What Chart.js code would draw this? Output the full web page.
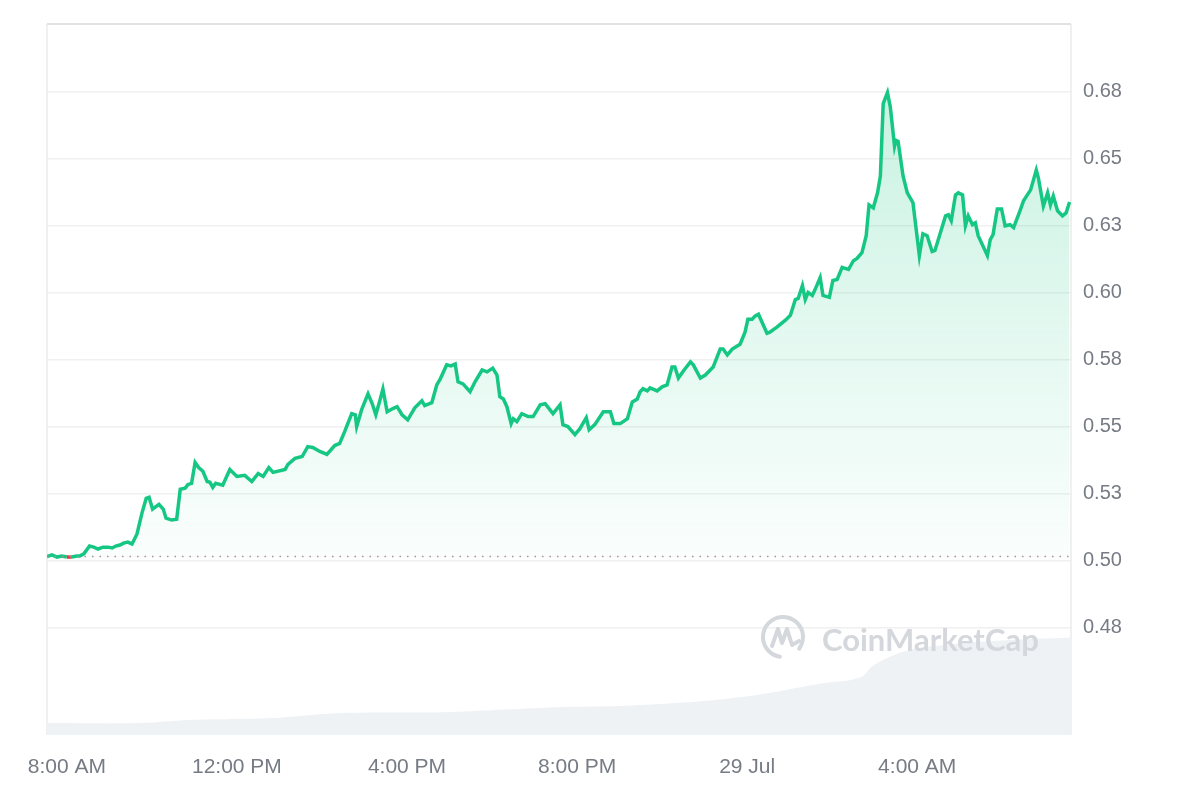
<!DOCTYPE html>
<html>
<head>
<meta charset="utf-8">
<script src="https://cdn.jsdelivr.net/npm/chart.js@4.4.1/dist/chart.umd.min.js"></script>
<style>
  html, body { margin: 0; padding: 0; background: #fff; }
  #wrap { width: 1200px; height: 800px; }
</style>
</head>
<body>
<div id="wrap"><canvas id="priceChart" width="1200" height="800"></canvas></div>
<script>
// minutes after 8:00 AM (28 Jul)
const times = [-28,-21,-14,-7,0,7,14,18,24,32,38,44,51,58,64,69,75,80,86,92,99,106,112,116,121,130,136,140,148,155,
  160,167,171,176,181,186,192,198,202,206,210,220,230,240,251,261,270,277,285,291,308,312,322,332,340,347,357,367,378,385,
  392,402,407,409,416,425,431,436,442,446,452,460,466,473,481,491,501,505,515,522,527,536,542,548,552,559,569,576,586,593,
  601,607,611,616,621,627,630,635,642,651,658,668,675,686,696,700,707,717,724,733,737,745,757,767,772,781,791,798,805,809,
  813,819,823,833,840,847,854,858,863,871,880,884,894,901,912,922,926,932,939,950,957,961,967,971,976,981,988,992,1002,1014,
  1021,1028,1032,1038,1042,1046,1052,1056,1063,1067,1076,1081,1087,1094,1103,1110,1115,1122,1128,1132,1138,1144,1148,1152,1158,1162,1168,1170,1173,1180,
  1186,1194,1203,1208,1214,1221,1225,1240,1244,1248,1254,1258,1264,1268,1272,1278,1282,1286,1299,1303,1307,1313,1319,1324,1331,1336,
  1345,1350,1360,1368,1371,1378,1384,1388,1392,1398,1405,1410,1415];

const prices = [0.5015,0.5021,0.5013,0.5017,0.5013,0.5013,0.5017,0.5017,0.5025,0.5054,0.5050,0.5043,0.5050,0.5050,0.5047,0.5054,0.5058,0.5065,0.5069,0.5062,
  0.5099,0.5177,0.5232,0.5236,0.5192,0.5210,0.5192,0.5158,0.5151,0.5154,
  0.5266,0.5270,0.5284,0.5288,0.5366,0.5347,0.5333,0.5295,0.5292,0.5273,0.5288,0.5281,0.5340,0.5314,0.5318,0.5295,0.5325,0.5314,0.5347,0.5329,
  0.5340,0.5359,0.5381,0.5388,0.5425,0.5422,0.5407,0.5396,0.5429,0.5437,
  0.5481,0.5548,0.5544,0.5500,0.5563,0.5622,0.5585,0.5544,0.5600,0.5640,0.5555,0.5567,0.5574,0.5544,0.5525,0.5570,0.5596,0.5578,0.5589,0.5655,
  0.5678,0.5730,0.5726,0.5733,0.5667,0.5659,0.5630,0.5667,0.5711,0.5704,0.5718,0.5692,0.5611,0.5603,0.5574,0.5511,0.5529,0.5518,0.5548,0.5537,
  0.5537,0.5581,0.5585,0.5548,0.5581,0.5507,0.5500,0.5470,0.5492,0.5533,0.5488,0.5507,0.5555,0.5555,0.5511,0.5511,0.5529,0.5592,0.5603,0.5630,
  0.5641,0.5633,0.5644,0.5633,0.5648,0.5655,0.5722,0.5722,0.5681,0.5711,0.5741,0.5730,0.5681,0.5692,0.5722,0.5789,0.5789,0.5767,0.5789,0.5807,
  0.5852,0.5900,0.5900,0.5912,0.5919,0.5889,0.5848,0.5852,0.5871,0.5897,0.5915,0.5974,0.5978,0.6026,0.5974,0.6000,0.5989,0.6012,0.6056,0.5989,
  0.5982,0.6045,0.6049,0.6094,0.6086,0.6119,0.6127,0.6149,0.6212,0.6327,0.6316,0.6372,0.6435,0.6705,0.6746,0.6693,0.6546,0.6568,0.6564,0.6435,
  0.6372,0.6335,0.6138,0.6219,0.6212,0.6153,0.6157,0.6286,0.6290,0.6268,0.6364,0.6372,0.6364,0.6249,0.6286,0.6253,0.6260,0.6212,0.6138,0.6197,
  0.6216,0.6312,0.6312,0.6249,0.6253,0.6242,0.6305,0.6342,0.6383,0.6457,0.6427,0.6323,0.6372,0.6327,0.6360,0.6305,0.6286,0.6297,0.6338];

// 24h volume (millions USD), sampled
const volTimes = [-28,103,174,291,385,527,692,805,950,1067,1120,1138,1186,1232,1317,1417];
const volumes = [12,12,15,17,22,23,28,30,38,52,58,70,85,90,95,98];

const tickMinutes = [0, 240, 480, 720, 960, 1200];
const tickLabels = ['8:00 AM', '12:00 PM', '4:00 PM', '8:00 PM', '29 Jul', '4:00 AM'];

const priceTicks = [0.475, 0.5, 0.525, 0.55, 0.575, 0.6, 0.625, 0.65, 0.675];
const priceTickLabels = ['0.48', '0.50', '0.53', '0.55', '0.58', '0.60', '0.63', '0.65', '0.68'];

const openPrice = prices[0];
const green = '#16c784';
const red = '#ea3943';
const labelColor = '#767b84';
const fontFamily = 'Liberation Sans, Arial, sans-serif';

function greenFill(context) {
    const area = context.chart.chartArea;
    if (!area) return 'rgba(22,199,132,0.15)';
    const yScale = context.chart.scales.y;
    const g = context.chart.ctx.createLinearGradient(0, area.top, 0, yScale.getPixelForValue(openPrice));
    g.addColorStop(0, 'rgba(22,199,132,0.26)');
    g.addColorStop(1, 'rgba(22,199,132,0.02)');
    return g;
}

// frame lines + watermark
const framePlugin = {
    id: 'frame',
    beforeDatasetsDraw(chart) {
        const { ctx, chartArea: a } = chart;
        ctx.save();
        ctx.strokeStyle = '#ececec';
        ctx.lineWidth = 1.5;
        ctx.beginPath();
        ctx.moveTo(a.left, a.bottom); ctx.lineTo(a.left, a.top);
        ctx.moveTo(a.right, a.top); ctx.lineTo(a.right, a.bottom);
        ctx.stroke();
        ctx.strokeStyle = '#e2e2e2';
        ctx.lineWidth = 2;
        ctx.beginPath();
        ctx.moveTo(a.left, a.top); ctx.lineTo(a.right, a.top);
        ctx.stroke();
        ctx.restore();
    },
    afterDatasetsDraw(chart) {
        const { ctx, chartArea: a } = chart;
        const cx = a.right - 288, cy = a.bottom - 98;
        ctx.save();
        ctx.strokeStyle = '#d4d7dc';
        ctx.lineWidth = 4;
        ctx.lineCap = 'round';
        ctx.lineJoin = 'round';
        ctx.beginPath();
        ctx.arc(cx, cy, 20, Math.PI * 0.55, Math.PI * 2.2);
        ctx.stroke();
        ctx.beginPath();
        ctx.moveTo(cx - 11, cy + 9);
        ctx.lineTo(cx - 5, cy - 8);
        ctx.lineTo(cx - 1, cy + 6);
        ctx.lineTo(cx + 4, cy - 8);
        ctx.lineTo(cx + 9, cy + 8);
        ctx.lineTo(cx + 16, cy + 4);
        ctx.stroke();
        ctx.fillStyle = '#d4d7dc';
        ctx.font = 'bold 31px Lato, "Open Sans", sans-serif';
        ctx.textBaseline = 'middle';
        ctx.fillText('CoinMarketCap', cx + 39, cy + 4);
        ctx.restore();
    }
};

new Chart(document.getElementById('priceChart'), {
    type: 'line',
    data: {
        datasets: [{
            label: 'Open',
            data: [{ x: times[0], y: openPrice }, { x: 1417, y: openPrice }],
            borderColor: '#9a9a9a',
            borderWidth: 1.5,
            borderDash: [1.5, 6],
            pointRadius: 0,
            fill: false,
            order: 0
        }, {
            label: 'Price',
            data: times.map((t, i) => ({ x: t, y: prices[i] })),
            borderColor: green,
            borderWidth: 3.5,
            pointRadius: 0,
            tension: 0,
            segment: {
                borderColor: c => (c.p0.parsed.y < openPrice && c.p1.parsed.y < openPrice) ? red : green
            },
            fill: { target: { value: openPrice }, above: greenFill, below: 'rgba(234,57,67,0.12)' },
            order: 1
        }, {
            label: 'Volume',
            data: volTimes.map((t, i) => ({ x: t, y: volumes[i] })),
            yAxisID: 'vol',
            borderWidth: 0,
            pointRadius: 0,
            tension: 0.4,
            fill: 'origin',
            backgroundColor: '#eff2f5',
            order: 2
        }]
    },
    options: {
        responsive: false,
        animation: false,
        layout: { padding: { left: 47, top: 20 } },
        plugins: {
            legend: { display: false },
            tooltip: { enabled: false }
        },
        scales: {
            x: {
                type: 'linear',
                min: -28,
                max: 1417,
                grid: { display: false, drawTicks: false },
                border: { display: false },
                afterBuildTicks: s => { s.ticks = tickMinutes.map(v => ({ value: v })); },
                afterFit: s => { s.height = 65; },
                ticks: {
                    padding: 20,
                    maxRotation: 0,
                    color: labelColor,
                    font: { family: fontFamily, size: 21 },
                    callback: v => tickLabels[tickMinutes.indexOf(v)]
                }
            },
            y: {
                position: 'right',
                min: 0.4349,
                max: 0.7002,
                grid: { color: '#f0f0f0', lineWidth: 1.5, drawTicks: false },
                border: { display: false },
                afterBuildTicks: s => { s.ticks = priceTicks.map(v => ({ value: v })); },
                afterFit: s => { s.width = 129; },
                ticks: {
                    padding: 12,
                    color: labelColor,
                    font: { family: fontFamily, size: 20 },
                    callback: v => priceTickLabels[priceTicks.indexOf(v)]
                }
            },
            vol: {
                display: false,
                min: 0,
                max: 715
            }
        }
    },
    plugins: [framePlugin]
});
</script>
</body>
</html>
